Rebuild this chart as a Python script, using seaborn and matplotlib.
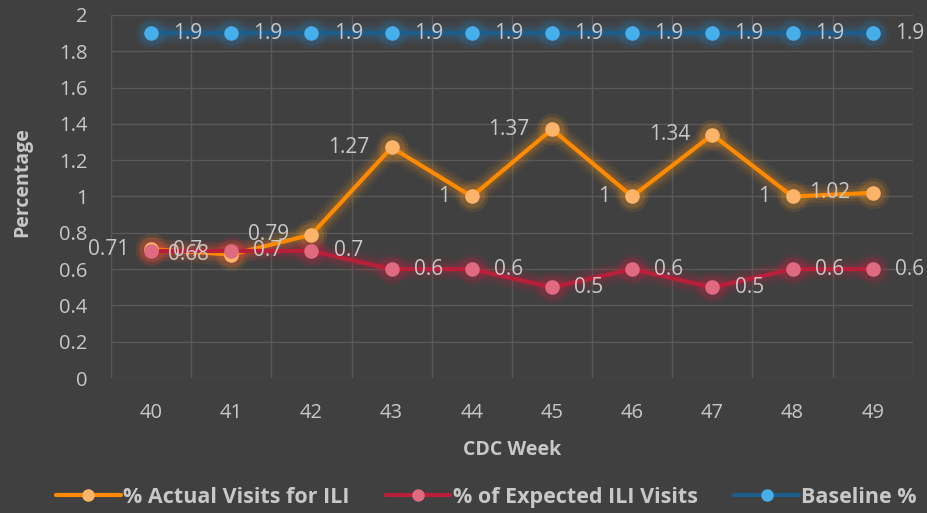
import matplotlib

matplotlib.use("Agg")
import matplotlib.pyplot as plt  # noqa: E402
import pandas as pd  # noqa: E402
import seaborn as sns  # noqa: E402
from matplotlib.ticker import MultipleLocator  # noqa: E402

WEEKS = [40, 41, 42, 43, 44, 45, 46, 47, 48, 49]
ACTUAL = [0.71, 0.68, 0.79, 1.27, 1, 1.37, 1, 1.34, 1, 1.02]
EXPECTED = [0.7, 0.7, 0.7, 0.6, 0.6, 0.5, 0.6, 0.5, 0.6, 0.6]
BASELINE = [1.9] * 10
SERIES = ["% Actual Visits for ILI", "% of Expected ILI Visits", "Baseline %"]

BG = "#404040"
TXT = "#c8c8c8"
GRID = "#595959"
LINE_COL = {SERIES[0]: "#ff8a00", SERIES[1]: "#b8203a", SERIES[2]: "#1d5d8c"}
MARK_COL = {SERIES[0]: "#fbb46a", SERIES[1]: "#e06a80", SERIES[2]: "#46aee8"}
GLOW_COL = {SERIES[0]: "#ff9a20", SERIES[1]: "#d02040", SERIES[2]: "#2a80c0"}

df = pd.DataFrame({
    "week": WEEKS * 3,
    "value": ACTUAL + EXPECTED + BASELINE,
    "series": [s for s in SERIES for _ in WEEKS],
})

sns.set_theme(style="dark")
plt.rcParams["font.family"] = ["Open Sans", "DejaVu Sans"]

fig = plt.figure(figsize=(9.28, 5.13), dpi=100, facecolor=BG)
ax = fig.add_axes([0.1196, 0.263, 0.864, 0.708], facecolor=BG)

# soft glow under each series
for s in SERIES:
    sub = df[df["series"] == s]
    for lw, a in [(16, 0.07), (11, 0.10), (7, 0.12)]:
        ax.plot(sub["week"], sub["value"], color=GLOW_COL[s], lw=lw, alpha=a,
                solid_capstyle="round", zorder=1)
    for sz, a in [(520, 0.10), (330, 0.15)]:
        ax.scatter(sub["week"], sub["value"], s=sz, color=GLOW_COL[s], alpha=a,
                   lw=0, zorder=1)

sns.lineplot(data=df, x="week", y="value", hue="series", hue_order=SERIES,
             palette=LINE_COL, lw=3, ax=ax, legend=False, zorder=2)
for s in SERIES:
    sub = df[df["series"] == s]
    ax.scatter(sub["week"], sub["value"], s=110, color=MARK_COL[s], lw=0, zorder=3)

# data labels
LBL = 15
for w, v in zip(WEEKS, ACTUAL):
    ax.annotate(f"{v:g}", (w, v), xytext=(-16, 0), textcoords="offset points",
                ha="right", va="center", color=TXT, fontsize=LBL, zorder=4)
for w, v in zip(WEEKS, EXPECTED):
    ax.annotate(f"{v:g}", (w, v), xytext=(16, 0), textcoords="offset points",
                ha="left", va="center", color=TXT, fontsize=LBL, zorder=4)
for w, v in zip(WEEKS, BASELINE):
    ax.annotate(f"{v:g}", (w, v), xytext=(16, 0), textcoords="offset points",
                ha="left", va="center", color=TXT, fontsize=LBL, zorder=4,
                annotation_clip=False)

ax.set_xlim(39.5, 49.5)
ax.set_ylim(0, 2)
ax.set_xticks(WEEKS)
ax.set_xticks([w - 0.5 for w in WEEKS] + [49.5], minor=True)
ax.yaxis.set_major_locator(MultipleLocator(0.2))
ax.set_yticklabels([f"{t:g}" for t in ax.get_yticks()])
ax.grid(True, which="major", axis="y", color=GRID, lw=1)
ax.grid(True, which="minor", axis="x", color=GRID, lw=1)
ax.grid(False, which="major", axis="x")
ax.tick_params(which="both", length=0, colors=TXT, labelsize=14.5)
ax.tick_params(axis="x", pad=18)
ax.tick_params(axis="y", pad=17)
for sp in ax.spines.values():
    sp.set_visible(False)

ax.set_xlabel("CDC Week", color=TXT, fontsize=14, fontweight="bold", labelpad=12)
ax.set_ylabel("Percentage", color=TXT, fontsize=14, fontweight="bold", labelpad=14)
ax.yaxis.set_label_coords(-0.098, 0.54)

handles = [
    plt.Line2D([], [], color=LINE_COL[s], lw=3, marker="o", markersize=9,
               markerfacecolor=MARK_COL[s], markeredgewidth=0)
    for s in SERIES
]
fig.legend(handles, SERIES, loc="center", bbox_to_anchor=(0.524, 0.031),
           ncol=3, frameon=False, labelcolor=TXT, handlelength=3.0,
           handletextpad=0.1, columnspacing=1.7,
           prop={"weight": "bold", "size": 15.5, "family": ["Open Sans", "DejaVu Sans"]})

fig.savefig("out.png", dpi=100, facecolor=BG)
